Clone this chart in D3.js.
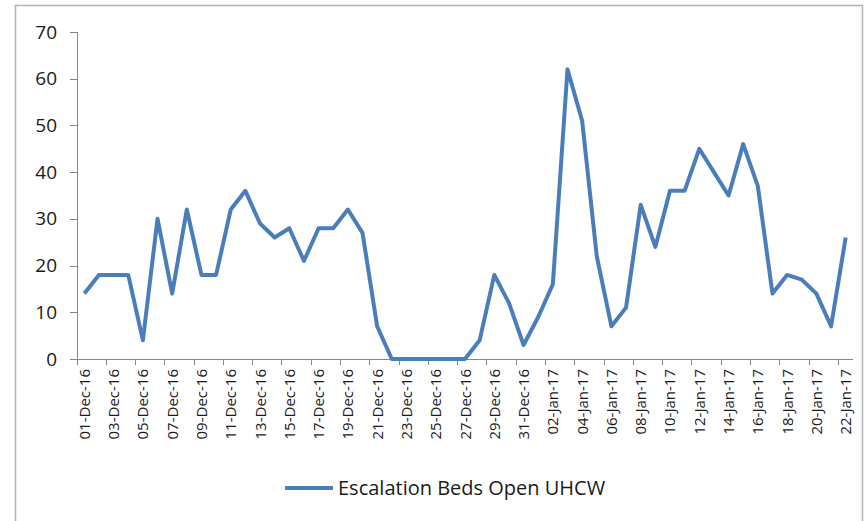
<!DOCTYPE html>
<html>
<head>
<script src="https://d3js.org/d3.v7.min.js"></script>
<style>
  body { margin: 0; background: #fff; }
  .axis path, .axis line { stroke: #868686; shape-rendering: crispEdges; }
  .axis text { font-family: "Open Sans", sans-serif; fill: #1a1a1a; }
</style>
</head>
<body>
<script>
const months = ["Dec", "Jan"];
const daysInMonth = [31, 22];
const yearLabel = ["16", "17"];
const seriesName = "Escalation Beds Open UHCW";
const beds = [
  14, 18, 18, 18, 4, 30, 14, 32, 18, 18, 32, 36, 29, 26, 28, 21, 28, 28, 32, 27,
  7, 0, 0, 0, 0, 0, 0, 4, 18, 12, 3,
  9, 16, 62, 51, 22, 7, 11, 33, 24, 36, 36, 45, 40, 35, 46, 37, 14, 18, 17, 14, 7, 26
];
const yTicks = [0, 10, 20, 30, 40, 50, 60, 70];

const dates = [];
months.forEach((m, i) => {
  for (let d = 1; d <= daysInMonth[i]; d++) {
    dates.push(String(d).padStart(2, "0") + "-" + m + "-" + yearLabel[i]);
  }
});
const data = dates.map((d, i) => ({ date: d, value: beds[i] }));

const width = 865, height = 521;
const svg = d3.select("body").append("svg")
  .attr("width", width).attr("height", height);

// chart frame
svg.append("rect")
  .attr("x", 15.5).attr("y", 5.5)
  .attr("width", 847).attr("height", 540)
  .attr("fill", "none").attr("stroke", "#b3b3b3").attr("stroke-width", 1.5);

const x = d3.scaleBand().domain(dates).range([77, 853]);
const y = d3.scaleLinear().domain([0, 70]).range([359, 32]);

// y axis
const yAxis = svg.append("g").attr("class", "axis")
  .attr("transform", "translate(77,0)")
  .call(d3.axisLeft(y).tickValues(yTicks).tickSize(7).tickPadding(13));
yAxis.selectAll("text").style("font-size", "19px");

// x axis: ticks between every second category
const xg = svg.append("g").attr("class", "axis")
  .attr("transform", "translate(0,359)");
xg.append("line").attr("x1", 77).attr("x2", 853).attr("y1", 0).attr("y2", 0);
const tickIdx = d3.range(0, dates.length + 1, 2);
xg.selectAll("line.tick")
  .data(tickIdx)
  .enter().append("line")
  .attr("class", "tick")
  .attr("x1", i => (i < dates.length ? x(dates[i]) : 853))
  .attr("x2", i => (i < dates.length ? x(dates[i]) : 853))
  .attr("y1", 0).attr("y2", 6);
xg.selectAll("text")
  .data(dates.filter((d, i) => i % 2 === 0))
  .enter().append("text")
  .attr("transform", d => `translate(${x(d) + x.bandwidth() / 2 + 5.5},10) rotate(-90)`)
  .attr("text-anchor", "end")
  .style("font-size", "15px")
  .text(d => d);

// line
const line = d3.line()
  .x(d => x(d.date) + x.bandwidth() / 2)
  .y(d => y(d.value));
svg.append("path")
  .datum(data)
  .attr("d", line)
  .attr("fill", "none")
  .attr("stroke", "#4a7ebb")
  .attr("stroke-width", 4)
  .attr("stroke-linejoin", "round");

// legend
const lg = svg.append("g").attr("transform", "translate(285,488)");
lg.append("line").attr("x1", 0).attr("x2", 48).attr("y1", 0).attr("y2", 0)
  .attr("stroke", "#4a7ebb").attr("stroke-width", 4);
lg.append("text").attr("x", 53).attr("y", 7)
  .style("font-family", "Open Sans, sans-serif").style("font-size", "20px")
  .attr("fill", "#1a1a1a")
  .text(seriesName);
</script>
</body>
</html>
